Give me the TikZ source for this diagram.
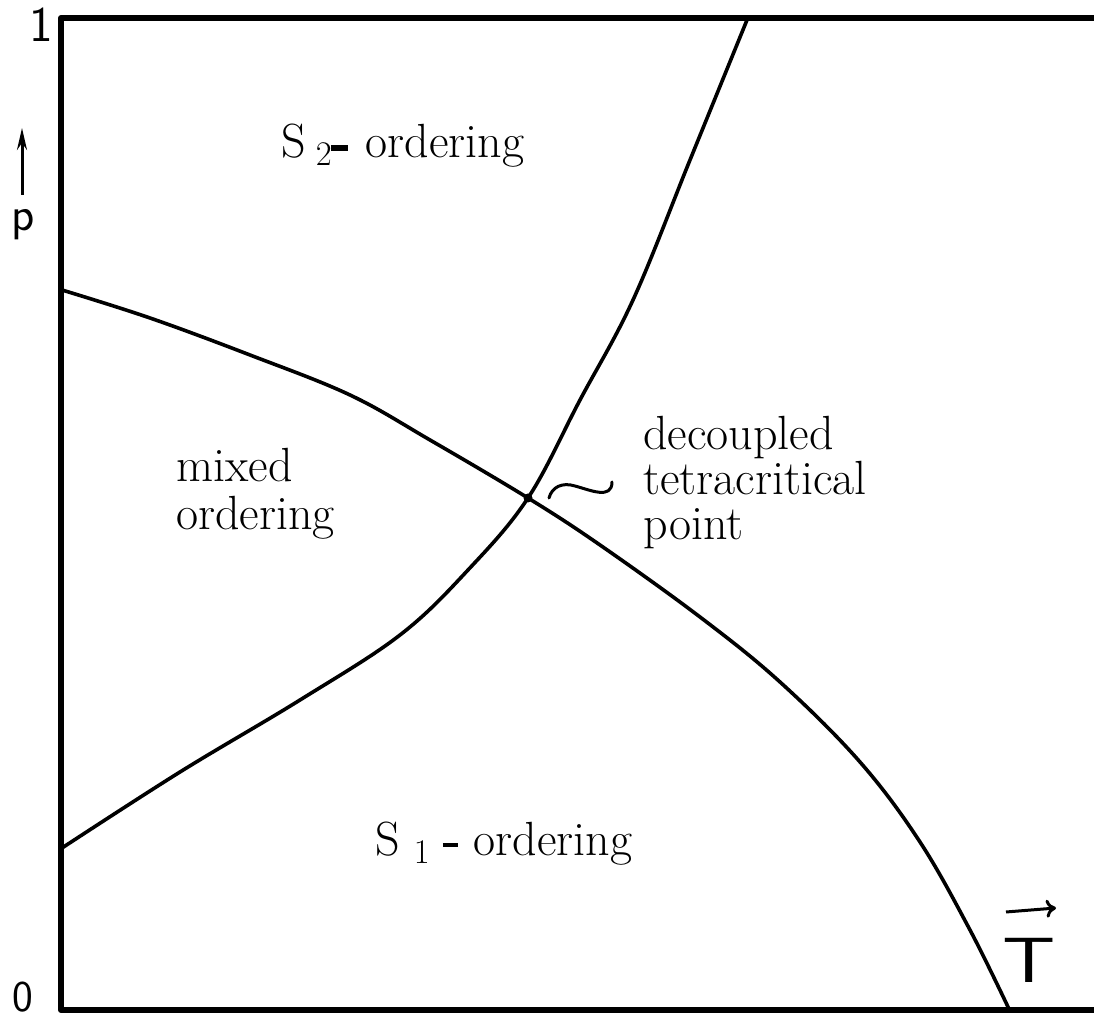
\documentclass[tikz,border=0pt]{standalone}
\usetikzlibrary{arrows.meta}
\begin{document}
\begin{tikzpicture}[x=0.5pt,y=-0.5pt,
  frame/.style={line width=3pt,line cap=round,line join=round},
  boundary/.style={line width=1.8pt},
  lbl/.style={inner sep=0pt,anchor=base west,font=\fontsize{24}{24}\selectfont},
  axlbl/.style={inner sep=0pt,font=\sffamily\fontsize{22}{22}\selectfont}]
\useasboundingbox (0,0) rectangle (1094,1020);
% frame
\coordinate (tl) at (61,18);
\coordinate (tr) at (1094,18);
\coordinate (bl) at (61,1010);
\coordinate (br) at (1094,1010);
\draw[frame] (tr) -- (tl) -- (bl) -- (br);
% phase boundaries
\draw[boundary] plot[smooth,tension=0.6] coordinates {(747,20) (690,160) (633,300) (580,400) (528,498) (468,570) (400,635) (300,700) (180,772) (62,848)};
\draw[boundary] plot[smooth,tension=0.6] coordinates {(62,290) (150,318) (250,355) (350,395) (430,440) (528,498) (600,545) (700,617) (780,682) (860,762) (920,842) (970,930) (1009,1009)};
% tetracritical point
\node[circle,fill=black,inner sep=0pt,minimum size=4.5pt] (tp) at (528,498) {};
\coordinate (tilS) at (549,498);
\coordinate (tilM) at (575,486);
\coordinate (tilE) at (612,482);
\draw[line width=1.5pt,line cap=round] (tilS) .. controls (552,487) and (562,482) .. (tilM) .. controls (590,490) and (612,500) .. (tilE);
% labels
\node[lbl] (s2) at (281,158) {S\kern5pt$_{2}$\kern-1pt\rule[3.5pt]{8.5pt}{3pt}\kern9pt ordering};
\node[lbl] (mx1) at (176,482) {mixed};
\node[lbl] (mx2) at (176,530) {ordering};
\node[lbl] (dc1) at (643,450) {decoupled};
\node[lbl] (dc2) at (643,495) {tetracritical};
\node[lbl] (dc3) at (643,540) {point};
\node[lbl] (s1) at (375,856) {S\kern7pt$_{1}$\kern6pt\rule[4.5pt]{7.5pt}{2pt}\kern8pt ordering};
% axis labels
\node[axlbl,font=\sffamily\fontsize{25}{25}\selectfont] (one) at (41,25) {1};
\node[axlbl,font=\sffamily\fontsize{24}{24}\selectfont] (p) at (23,225) {p};
\node[axlbl] (zero) at (23,997) {0};
\node[axlbl,font=\sffamily\fontsize{32}{32}\selectfont] (T) at (1029,960) {\scalebox{1.3}[1]{T}};
\coordinate (pa1) at (22,195);
\coordinate (pa2) at (22,128);
\draw[line width=1.5pt,-{Stealth[length=11pt,width=5pt]}] (pa1) -- (pa2);
\coordinate (ta1) at (1006,912);
\coordinate (ta2) at (1056,908);
\draw[line width=1.5pt,-{To[length=5pt,width=9pt]}] (ta1) -- (ta2);
\end{tikzpicture}
\end{document}
